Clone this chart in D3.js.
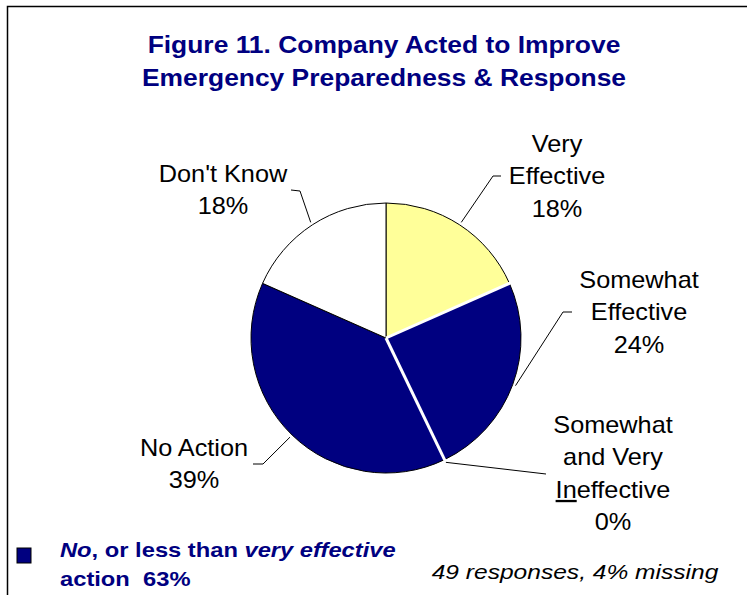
<!DOCTYPE html>
<html>
<head>
<meta charset="utf-8">
<script src="https://cdn.jsdelivr.net/npm/d3@7"></script>
<style>
  body { margin: 0; background: #fff; }
  text { font-family: "Liberation Sans", Arial, sans-serif; }
</style>
</head>
<body>
<div id="chart"></div>
<script>
// Data: 49 responses, counts
const categories = ["Very Effective", "Somewhat Effective", "Somewhat and Very Ineffective", "No Action", "Don't Know"];
const counts = [9, 12, 0, 19, 9];
const pctLabels = ["18%", "24%", "0%", "39%", "18%"];
const sliceColors = ["#FFFF99", "#000080", "#000080", "#000080", "#FFFFFF"];

// Label layout (text lines, centre, elbow and end of leader)
const labelLines = [
  ["Very", "Effective"],
  ["Somewhat", "Effective"],
  ["Somewhat", "and Very", "Ineffective"],
  ["No Action"],
  ["Don't Know"]
];
const labelPos = [
  { x: 557, y: 152, elbow: [493, 176], end: [501, 176] },
  { x: 639, y: 288, elbow: [563, 312], end: [572, 312] },
  { x: 613, y: 433, elbow: [546, 474], end: [546, 474] },
  { x: 194, y: 456, elbow: [263, 464], end: [253, 464] },
  { x: 223, y: 182, elbow: [300, 191], end: [291, 190] }
];

const W = 747, H = 595;
const cx = 386, cy = 338, r = 135;

const svg = d3.select("#chart").append("svg")
  .attr("width", W).attr("height", H);

// frame
svg.append("path")
  .attr("d", `M7.5,${H} L7.5,6.5 L${W},6.5`)
  .attr("fill", "none").attr("stroke", "#000").attr("stroke-width", 1.5);

// title
const title = svg.append("text")
  .attr("text-anchor", "middle")
  .attr("fill", "#000080")
  .attr("font-weight", "bold")
  .attr("font-size", 24)
  .attr("transform", `translate(384,0) scale(1.1,1)`);
title.append("tspan").attr("x", 0).attr("y", 53).text("Figure 11. Company Acted to Improve");
title.append("tspan").attr("x", 0).attr("y", 86).text("Emergency Preparedness & Response");

const pie = d3.pie().sort(null).value(d => d)
  .startAngle(0).endAngle(2 * Math.PI);
const arcs = pie(counts);
const arc = d3.arc().innerRadius(0).outerRadius(r);

const g = svg.append("g").attr("transform", `translate(${cx},${cy})`);

g.selectAll("path.slice")
  .data(arcs)
  .enter()
  .append("path")
  .attr("class", "slice")
  .attr("d", arc)
  .attr("fill", (d, i) => sliceColors[i])
  .attr("stroke", "#000")
  .attr("stroke-width", 1);

// white separators at the edges of the navy slices
const sep = [arcs[1].startAngle, arcs[2].startAngle];
g.selectAll("line.sep")
  .data(sep)
  .enter()
  .append("line")
  .attr("x1", 0).attr("y1", 0)
  .attr("x2", a => (r + 1) * Math.sin(a))
  .attr("y2", a => -(r + 1) * Math.cos(a))
  .attr("stroke", "#fff")
  .attr("stroke-width", 3);

// leader lines
arcs.forEach((d, i) => {
  const a = (d.startAngle + d.endAngle) / 2;
  const p = labelPos[i];
  const sx = cx + (r + 3) * Math.sin(a), sy = cy - (r + 3) * Math.cos(a);
  svg.append("path")
    .attr("d", `M${sx},${sy} L${p.elbow[0]},${p.elbow[1]} L${p.end[0]},${p.end[1]}`)
    .attr("fill", "none")
    .attr("stroke", "#000")
    .attr("stroke-width", 1);
});

// labels
const lineH = 32.5;
arcs.forEach((d, i) => {
  const p = labelPos[i];
  const t = svg.append("text")
    .attr("text-anchor", "middle")
    .attr("font-size", 23)
    .attr("fill", "#000")
    .attr("transform", `translate(${p.x},${p.y}) scale(1.1,1)`);
  const lines = labelLines[i].concat([pctLabels[i]]);
  lines.forEach((ln, j) => {
    const ts = t.append("tspan").attr("x", 0).attr("y", j * lineH);
    if (ln === "Ineffective") {
      ts.append("tspan").attr("text-decoration", "underline").text("In");
      ts.append("tspan").text("effective");
    } else {
      ts.text(ln);
    }
  });
});

// legend-like note at bottom
svg.append("rect")
  .attr("x", 17).attr("y", 548).attr("width", 14).attr("height", 15)
  .attr("fill", "#000080").attr("stroke", "#000").attr("stroke-width", 1);

const note = svg.append("text")
  .attr("fill", "#000080")
  .attr("font-weight", "bold")
  .attr("font-size", 21)
  .attr("transform", "translate(60,0) scale(1.13,1)");
const l1 = note.append("tspan").attr("x", 0).attr("y", 557);
l1.append("tspan").attr("font-style", "italic").text("No");
l1.append("tspan").text(", or less than ");
l1.append("tspan").attr("font-style", "italic").text("very effective");
note.append("tspan").attr("x", 0).attr("y", 586).text("action\u00a0 63%");

svg.append("text")
  .attr("font-style", "italic")
  .attr("font-size", 21)
  .attr("fill", "#000")
  .attr("text-anchor", "middle")
  .attr("transform", "translate(575,579) scale(1.17,1)")
  .text("49 responses, 4% missing");
</script>
</body>
</html>
